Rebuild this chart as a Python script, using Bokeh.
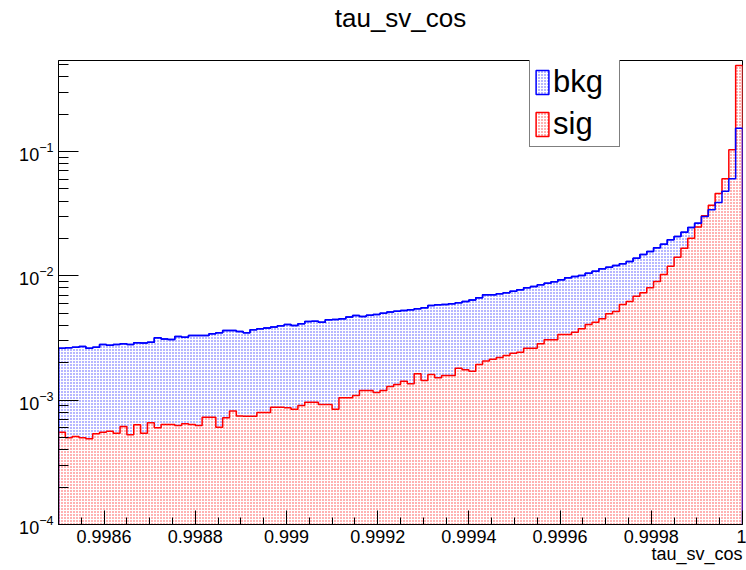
import numpy as np
from bokeh.plotting import figure
from bokeh.models import Range1d, FixedTicker, LogTicker, Legend, LegendItem, Title
from bokeh.embed import file_html
from bokeh.resources import INLINE

# ---- data ----
x_lo, x_hi, n_bins = 0.9985, 1.0, 100

bkg = [
    0.00262, 0.00264, 0.00267, 0.00270, 0.00262, 0.00267, 0.00281, 0.00277, 0.00281, 0.00284,
    0.00281, 0.00290, 0.00288, 0.00293, 0.00318, 0.00310, 0.00308, 0.00325, 0.00321, 0.00332,
    0.00332, 0.00331, 0.00342, 0.00349, 0.00364, 0.00364, 0.00357, 0.00349, 0.00368, 0.00375,
    0.00380, 0.00387, 0.00397, 0.00406, 0.00399, 0.00412, 0.00430, 0.00432, 0.00424, 0.00443,
    0.00446, 0.00451, 0.00466, 0.00480, 0.00472, 0.00483, 0.00489, 0.00501, 0.00511, 0.00520,
    0.00527, 0.00533, 0.00543, 0.00553, 0.00578, 0.00585, 0.00589, 0.00596, 0.00607, 0.00622,
    0.00640, 0.00666, 0.00704, 0.00704, 0.00717, 0.00731, 0.00753, 0.00773, 0.00802, 0.00822,
    0.00848, 0.00874, 0.00896, 0.00930, 0.00965, 0.00989, 0.01007, 0.01052, 0.01091, 0.01140,
    0.01175, 0.01213, 0.01250, 0.01305, 0.01389, 0.01487, 0.01572, 0.01683, 0.01800, 0.01952,
    0.02075, 0.02247, 0.02452, 0.02650, 0.03000, 0.03400, 0.03900, 0.04800, 0.06040, 0.15430,
]

sig = [
    0.000553, 0.000498, 0.000511, 0.000498, 0.000489, 0.000536, 0.000553, 0.000563, 0.000543, 0.000614,
    0.000526, 0.000634, 0.000543, 0.000658, 0.000599, 0.000638, 0.000638, 0.000626, 0.000645, 0.000638,
    0.000626, 0.000730, 0.000730, 0.000607, 0.000722, 0.000820, 0.000745, 0.000743, 0.000743, 0.000796,
    0.000796, 0.000878, 0.000878, 0.000869, 0.000847, 0.000907, 0.000963, 0.000963, 0.000924, 0.000924,
    0.000847, 0.001045, 0.001045, 0.001091, 0.001197, 0.001197, 0.001153, 0.001197, 0.001289, 0.001337,
    0.001422, 0.001354, 0.001631, 0.001440, 0.001610, 0.001514, 0.001580, 0.001580, 0.001809, 0.001756,
    0.001711, 0.001938, 0.002070, 0.002130, 0.002200, 0.002289, 0.002388, 0.002432, 0.002620, 0.002620,
    0.002842, 0.003060, 0.003060, 0.003378, 0.003378, 0.003524, 0.003750, 0.004064, 0.004240, 0.004510,
    0.004950, 0.005170, 0.005890, 0.006220, 0.006870, 0.007310, 0.008020, 0.009020, 0.010260, 0.011970,
    0.014140, 0.016700, 0.020100, 0.024700, 0.030500, 0.037000, 0.046000, 0.060400, 0.103300, 0.493000,
]

series_names = ["bkg", "sig"]
series_colors = ["#0000ff", "#ff0000"]

title_text = "tau_sv_cos"
x_label_text = "tau_sv_cos"
x_ticks = [0.9986, 0.9988, 0.999, 0.9992, 0.9994, 0.9996, 0.9998, 1.0]
x_tick_labels = ["0.9986", "0.9988", "0.999", "0.9992", "0.9994", "0.9996", "0.9998", "1"]
y_lo, y_hi = 1e-4, 0.54

FONT = "Liberation Sans"

# ---- helpers ----
edges = np.linspace(x_lo, x_hi, n_bins + 1)
y_floor = y_lo / 10.0  # below the visible range so the bottom edge is clipped


def outline(vals):
    xs = np.repeat(edges, 2)
    ys = np.concatenate([[y_floor], np.repeat(np.asarray(vals, dtype=float), 2), [y_floor]])
    return xs, ys


p = figure(
    width=746, height=570,
    y_axis_type="log",
    x_range=Range1d(x_lo, x_hi), y_range=Range1d(y_lo, y_hi),
    output_backend="svg", toolbar_location=None,
    title=title_text,
    min_border_left=58, min_border_right=4, min_border_top=60, min_border_bottom=46,
)
p.background_fill_color = "white"
p.border_fill_color = "white"
p.outline_line_color = "black"
p.outline_line_width = 1
p.xgrid.visible = False
p.ygrid.visible = False

p.title.align = "center"
p.title.vertical_align = "bottom"
p.title.offset = -6
p.title.text_font = FONT
p.title.text_font_size = "26px"
p.title.text_font_style = "normal"
p.title.text_color = "black"
p.title.standoff = 0

# blank spacer between the frame and the title (keeps the title high, like ROOT)
p.add_layout(Title(text=" ", text_font_size="12px", standoff=12), "above")

bx, by = outline(bkg)
sx, sy = outline(sig)

r_bkg = p.patch(bx, by, fill_alpha=0.0, line_color=series_colors[0], line_width=1.5,
                hatch_pattern="dot", hatch_color=series_colors[0], hatch_scale=3,
                hatch_weight=1, hatch_alpha=0.7)
r_sig = p.patch(sx, sy, fill_color="white", fill_alpha=1.0, line_color=series_colors[1], line_width=1.5,
                hatch_pattern="dot", hatch_color=series_colors[1], hatch_scale=3,
                hatch_weight=1, hatch_alpha=0.75)
# bkg outline redrawn on top so it stays visible inside the sig region
p.line(bx, by, line_color=series_colors[0], line_width=1.5)

legend = Legend(items=[LegendItem(label=series_names[0], renderers=[r_bkg]),
                       LegendItem(label=series_names[1], renderers=[r_sig])],
                location=(471, 377))
legend.label_text_font = FONT
legend.label_text_font_size = "31px"
legend.label_text_color = "black"
legend.glyph_width = 16
legend.glyph_height = 30
legend.label_width = 62
legend.border_line_color = "black"
legend.border_line_width = 1
legend.background_fill_color = "white"
legend.background_fill_alpha = 1.0
legend.padding = 4
legend.spacing = 6
legend.margin = 0
legend.label_standoff = 3
p.add_layout(legend)

# x axis
x_minor = [x_lo + 0.00005 * k for k in range(1, 30)]
x_minor = [round(v, 6) for v in x_minor if min(abs(v - t) for t in x_ticks) > 1e-7]
xa = p.xaxis[0]
xa.ticker = FixedTicker(ticks=x_ticks, minor_ticks=x_minor)
xa.major_label_overrides = dict(zip(x_ticks, x_tick_labels))
xa.major_tick_in = 14
xa.major_tick_out = 0
xa.minor_tick_in = 7
xa.minor_tick_out = 0
xa.major_label_standoff = 5

ya = p.yaxis[0]
ya.ticker = LogTicker(num_minor_ticks=10)
ya.major_tick_in = 20
ya.major_tick_out = 0
ya.minor_tick_in = 10
ya.minor_tick_out = 0
ya.major_label_standoff = 5

for ax in (xa, ya):
    ax.axis_line_color = "black"
    ax.major_tick_line_color = "black"
    ax.minor_tick_line_color = "black"
    ax.major_label_text_font = FONT
    ax.major_label_text_font_size = "18px"
    ax.major_label_text_color = "black"

p.add_layout(Title(text=x_label_text, align="right", vertical_align="top", text_font=FONT,
                   text_font_size="18px", text_font_style="normal", text_color="black",
                   standoff=-4), "below")

open("out.html", "w").write(file_html(p, INLINE))
